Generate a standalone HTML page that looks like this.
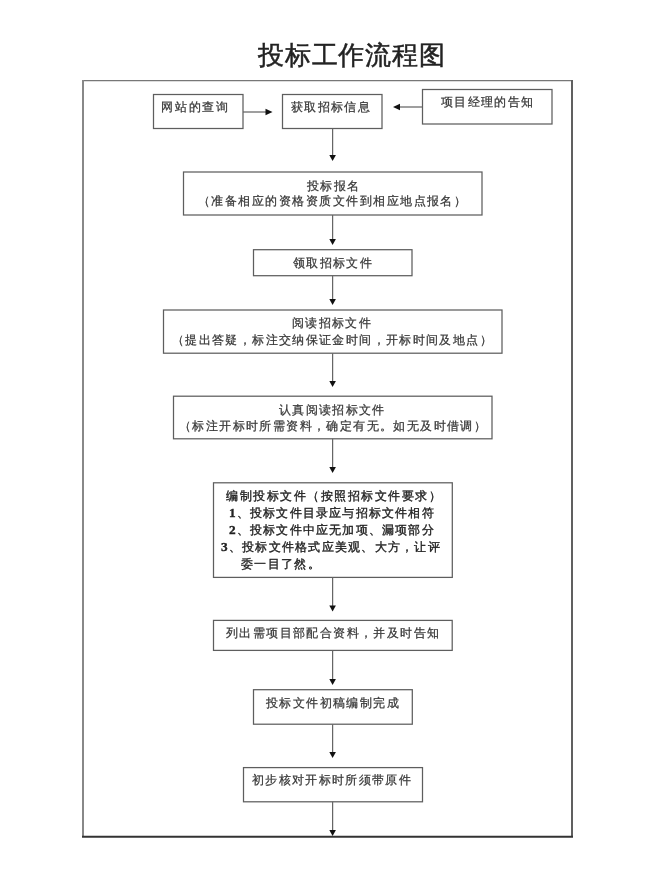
<!DOCTYPE html>
<html><head><meta charset="utf-8">
<style>
html,body{margin:0;padding:0;background:#fff;}
body{width:658px;height:878px;position:relative;overflow:hidden;font-family:"Liberation Sans",sans-serif;color:#333;}
svg{position:absolute;left:0;top:0;}
.t{position:absolute;white-space:nowrap;font-size:12.3px;line-height:15px;letter-spacing:1.33px;will-change:transform;-webkit-text-stroke:0.25px #383838;color:#383838;}
.title{position:absolute;white-space:nowrap;font-size:26px;line-height:30px;color:#222;letter-spacing:0.8px;-webkit-text-stroke:0.5px #222;will-change:transform;}
.b{color:#222;-webkit-text-stroke:0.35px #222;}
.d{font-family:"Liberation Serif",serif;font-weight:bold;font-size:13.3px;}
</style></head><body>
<svg width="658" height="878" viewBox="0 0 658 878">
<g fill="none" stroke="#5e5e5e" stroke-width="1.25">
<!-- outer frame -->
<line x1="83" y1="80.5" x2="572" y2="80.5" stroke="#777"/>
<line x1="83" y1="80" x2="83" y2="837" stroke="#888" stroke-width="2"/>
<line x1="572" y1="80" x2="572" y2="837" stroke="#606060" stroke-width="2"/>
<line x1="82" y1="836.8" x2="573" y2="836.8" stroke="#333" stroke-width="2"/>
<!-- boxes -->
<rect x="153.5" y="94.5" width="89.5" height="34"/>
<rect x="282.5" y="94.5" width="99.5" height="34"/>
<rect x="422.5" y="89.5" width="129.5" height="34.5"/>
<rect x="183.5" y="172" width="298.5" height="43"/>
<rect x="253.5" y="249.7" width="158.5" height="26"/>
<rect x="163.5" y="310" width="338.5" height="43.2"/>
<rect x="173.5" y="396.2" width="318.5" height="42.6"/>
<rect x="213.5" y="482.8" width="238.8" height="94.6"/>
<rect x="213.5" y="620.4" width="238.7" height="30"/>
<rect x="253.5" y="689.7" width="158.8" height="34.5"/>
<rect x="243.5" y="767.6" width="179" height="34.2"/>
<g stroke="#666">
<line x1="243" y1="112" x2="266" y2="112"/>
<line x1="422" y1="107" x2="399" y2="107"/>
<line x1="332.6" y1="128.7" x2="332.6" y2="156"/>
<line x1="332.6" y1="215" x2="332.6" y2="240"/>
<line x1="332.6" y1="275.6" x2="332.6" y2="300"/>
<line x1="332.6" y1="353.2" x2="332.6" y2="382"/>
<line x1="332.6" y1="438.8" x2="332.6" y2="468"/>
<line x1="332.6" y1="577.5" x2="332.6" y2="606"/>
<line x1="332.6" y1="650.5" x2="332.6" y2="680"/>
<line x1="332.6" y1="724.2" x2="332.6" y2="753"/>
<line x1="332.6" y1="801.8" x2="332.6" y2="831"/>
</g>
</g>
<g fill="#111" stroke="none">
<path d="M272.5 112 L265.5 108.8 L265.5 115.2 Z"/>
<path d="M393 107 L400 103.8 L400 110.2 Z"/>
<path d="M332.6 161 L329.3 155 L335.9 155 Z"/>
<path d="M332.6 245 L329.3 239 L335.9 239 Z"/>
<path d="M332.6 305 L329.3 299 L335.9 299 Z"/>
<path d="M332.6 387 L329.3 381 L335.9 381 Z"/>
<path d="M332.6 473 L329.3 467 L335.9 467 Z"/>
<path d="M332.6 611.5 L329.3 605.5 L335.9 605.5 Z"/>
<path d="M332.6 685 L329.3 679 L335.9 679 Z"/>
<path d="M332.6 758 L329.3 752 L335.9 752 Z"/>
<path d="M332.6 836 L329.3 830 L335.9 830 Z"/>
</g>
</svg>
<div class="title" style="left:258px;top:40px;">投标工作流程图</div>
<div class="t" style="left:161px;top:99.5px;letter-spacing:1.75px;">网站的查询</div>
<div class="t" style="left:291px;top:99.5px;">获取招标信息</div>
<div class="t" style="left:441px;top:94.5px;">项目经理的告知</div>
<div class="t" style="left:307px;top:178.5px;">投标报名</div>
<div class="t" style="left:198px;top:193.5px;letter-spacing:1.47px;">（准备相应的资格资质文件到相应地点报名）</div>
<div class="t" style="left:293px;top:255.5px;">领取招标文件</div>
<div class="t" style="left:292px;top:315.5px;">阅读招标文件</div>
<div class="t" style="left:172px;top:332.5px;letter-spacing:1.37px;">（提出答疑，标注交纳保证金时间，开标时间及地点）</div>
<div class="t" style="left:279px;top:402.5px;">认真阅读招标文件</div>
<div class="t" style="left:179px;top:418.5px;letter-spacing:1.40px;">（标注开标时所需资料，确定有无。如无及时借调）</div>
<div class="t b" style="left:226px;top:488.5px;letter-spacing:1.53px;">编制投标文件（按照招标文件要求）</div>
<div class="t b" style="left:229px;top:504.5px;letter-spacing:1.2px;"><span class="d">1</span>、投标文件目录应与招标文件相符</div>
<div class="t b" style="left:229px;top:521.5px;letter-spacing:1.2px;"><span class="d">2</span>、投标文件中应无加项、漏项部分</div>
<div class="t b" style="left:221px;top:538.5px;letter-spacing:1.25px;"><span class="d">3</span>、投标文件格式应美观、大方，让评</div>
<div class="t b" style="left:241px;top:556.5px;">委一目了然。</div>
<div class="t" style="left:226px;top:625.5px;letter-spacing:1.4px;">列出需项目部配合资料，并及时告知</div>
<div class="t" style="left:266px;top:695.5px;letter-spacing:1.4px;">投标文件初稿编制完成</div>
<div class="t" style="left:252px;top:772.5px;">初步核对开标时所须带原件</div>
</body></html>
